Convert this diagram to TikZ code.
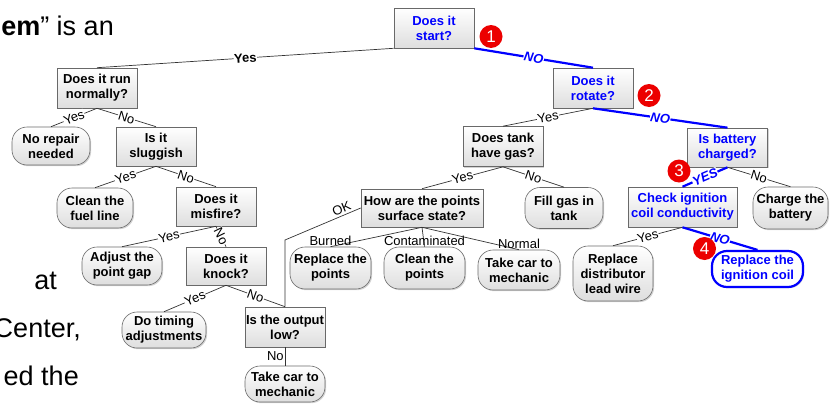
\documentclass[tikz,border=0pt]{standalone}
\usepackage{fontspec}
\setmainfont{Liberation Sans}
\usetikzlibrary{shadows}
\definecolor{dblue}{RGB}{0,0,255}
\definecolor{rred}{RGB}{236,0,0}
\definecolor{bordergray}{RGB}{105,105,105}
\begin{document}
\begin{tikzpicture}[x=1pt,y=-1pt,
  every node/.style={font=\fontsize{13}{15}\selectfont},
  box/.style={draw=bordergray, line width=0.6pt, rectangle, top color=white, bottom color=black!13,
    drop shadow={shadow xshift=1.2pt, shadow yshift=-1.2pt, opacity=0.35},
    align=center, inner sep=1pt, font=\fontsize{13}{15}\selectfont\bfseries,
    minimum width=80pt, minimum height=40pt},
  leaf/.style={box, rounded corners=15pt},
  conn/.style={draw=black!80, line width=0.7pt},
  bconn/.style={draw=dblue, line width=2.2pt},
  lab/.style={font=\fontsize{13}{13}\selectfont, fill=white, inner sep=0.5pt, sloped},
  blab/.style={font=\fontsize{13}{13}\selectfont\bfseries\itshape, text=dblue, fill=white, inner sep=0.5pt, sloped},
  endlab/.style={font=\fontsize{13}{13}\selectfont, inner sep=0.5pt, above},
  slide/.style={anchor=base east, inner sep=0pt, font=\fontsize{27}{27}\selectfont},
  badge/.style={circle, fill=rred, text=white, minimum size=23pt, inner sep=0pt, font=\fontsize{17}{17}\selectfont}
]
\useasboundingbox (0,0) rectangle (831,407);

% slide text fragments
\node[slide] (t1) at (114,35) {\textbf{em}” is an};
\node[slide] (t2) at (57,289) {at};
\node[slide] (t3) at (81,337) {Center,};
\node[slide] (t4) at (79,385) {ed the};

% nodes
\node[box, text=dblue] (start) at (434,28) {Does it\\start?};
\node[box] (run) at (97,88) {Does it run\\normally?};
\node[leaf, minimum width=78pt, minimum height=38pt] (norep) at (51,146) {No repair\\needed};
\node[box, minimum height=39pt] (slug) at (156,146.5) {Is it\\sluggish};
\node[leaf, minimum width=76pt] (fuel) at (95,208) {Clean the\\fuel line};
\node[box, minimum height=39pt] (misf) at (216,206.5) {Does it\\misfire?};
\node[leaf, minimum height=38pt] (adj) at (122,266) {Adjust the\\point gap};
\node[box, minimum height=38pt] (knock) at (226,266) {Does it\\knock?};
\node[leaf, minimum width=84pt, minimum height=36pt] (timing) at (164,330) {Do timing\\adjustments};
\node[box] (out) at (285,327) {Is the output\\low?};
\node[leaf, minimum height=36pt] (mech1) at (285,384) {Take car to\\mechanic};
\node[box, text=dblue] (rot) at (593,88) {Does it\\rotate?};
\node[box] (tank) at (503,146.5) {Does tank\\have gas?};
\node[box, minimum width=122pt, minimum height=38pt] (pts) at (422,208) {How are the points\\surface state?};
\node[leaf, minimum width=78pt, minimum height=41pt] (fill) at (564,208) {Fill gas in\\tank};
\node[leaf, minimum width=81pt, minimum height=42pt] (rpts) at (330.5,268) {Replace the\\points};
\node[leaf, minimum width=81pt, minimum height=42pt] (cpts) at (424.5,268) {Clean the\\points};
\node[leaf, minimum width=82pt, minimum height=40pt] (mech2) at (519,270) {Take car to\\mechanic};
\node[box, text=dblue, minimum height=39pt] (bat) at (727.5,147.5) {Is battery\\charged?};
\node[box, text=dblue, minimum width=109pt] (chk) at (682.5,207) {Check ignition\\coil conductivity};
\node[leaf, minimum width=75pt, minimum height=42pt] (chg) at (790.5,208) {Charge the\\battery};
\node[leaf, minimum height=55pt] (dist) at (613,273.5) {Replace\\distributor\\lead wire};
\node[leaf, draw=dblue, line width=2.2pt, text=dblue, top color=white, bottom color=white,
      minimum width=91pt, minimum height=36pt] (coil) at (757.5,269) {Replace the\\ignition coil};

% connectors
\draw[conn] (start.south west) -- node[lab, font=\fontsize{13}{13}\selectfont\bfseries] {Yes} (run.north);
\draw[bconn] (start.south east) -- node[blab] {NO} (rot.north);
\draw[conn] (run.south) -- node[lab] {Yes} (norep.north);
\draw[conn] (run.south) -- node[lab] {No} (slug.north);
\draw[conn] (slug.south) -- node[lab] {Yes} (fuel.north);
\draw[conn] (slug.south) -- node[lab] {No} (misf.north);
\draw[conn] (misf.south) -- node[lab] {Yes} (adj.north);
\draw[conn] (misf.south) -- node[lab] {No} (knock.north);
\draw[conn] (knock.south) -- node[lab] {Yes} (timing.north);
\draw[conn] (knock.south) -- node[lab] {No} (out.north);
\draw[conn] (out.south) -- node[left, font=\fontsize{13}{13}\selectfont, inner sep=1pt] {No} (mech1.north);
\draw[conn] (rot.south) -- node[lab] {Yes} (tank.north);
\draw[bconn] (rot.south) -- node[blab] {NO} (bat.north);
\draw[conn] (tank.south) -- node[lab] {Yes} (pts.north);
\draw[conn] (tank.south) -- node[lab] {No} (fill.north);
\coordinate (okbend) at (285,240);
\draw[conn] (out.north) -- (okbend) -- node[pos=0.78, above, sloped, font=\fontsize{13}{13}\selectfont, inner sep=1.5pt] {OK} (pts.west);
\draw[conn] (pts.south) -- node[at end, endlab] {Burned} (rpts.north);
\draw[conn] (pts.south) -- node[at end, endlab] {Contaminated} (cpts.north);
\draw[conn] (pts.south) -- node[at end, endlab] {Normal} (mech2.north);
\draw[bconn] (bat.south) -- node[blab] {YES} (chk.north);
\draw[conn] (bat.south) -- node[lab] {No} (chg.north);
\draw[conn] (chk.south) -- node[lab] {Yes} (dist.north);
\draw[bconn] (chk.south) -- node[blab] {NO} (coil.north);

% numbered badges
\node[badge] (b1) at (491,36.5) {1};
\node[badge] (b2) at (649,95.5) {2};
\node[badge] (b3) at (679,171) {3};
\node[badge] (b4) at (704.5,248.5) {4};
\end{tikzpicture}
\end{document}
